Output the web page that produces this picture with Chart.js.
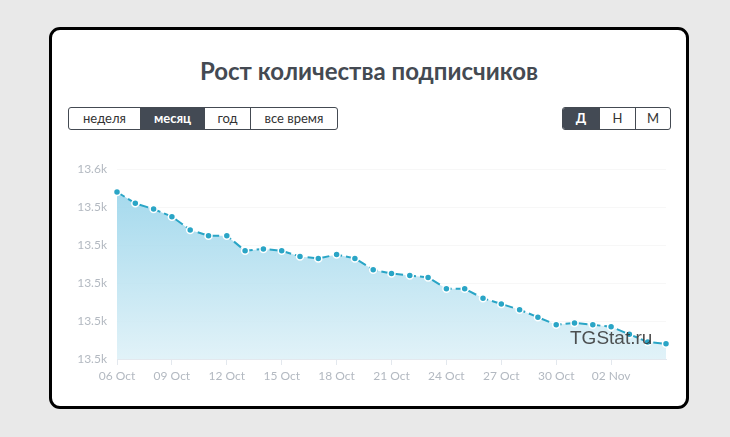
<!DOCTYPE html>
<html>
<head>
<meta charset="utf-8">
<script src="https://cdn.jsdelivr.net/npm/chart.js@4.4.1/dist/chart.umd.min.js"></script>
<style>
    body { margin: 0; background: #e9e9e9; width: 730px; height: 437px; overflow: hidden; font-family: Lato, "Open Sans", sans-serif; }
    .card { position: absolute; left: 49px; top: 27px; width: 634px; height: 376px; background: #fff; border: 3px solid #000; border-radius: 11px; }
    .title { position: absolute; left: 0; right: 0; top: 26px; text-align: center; font-size: 24px; font-weight: bold; color: #444a52; }
    .btns { position: absolute; top: 77px; display: flex; border: 1px solid #444a52; border-radius: 3px; overflow: hidden; }
    .btns div { font-size: 13px; color: #333; height: 21px; line-height: 21px; text-align: center; border-left: 1px solid #444a52; box-sizing: border-box; }
    .btns div:first-child { border-left: none; }
    .btns div.on { background: #434a54; color: #fff; font-weight: bold; }
    .chartbox { position: absolute; left: 8px; top: 122px; width: 620px; height: 243px; }
    .wm { position: absolute; left: 518px; top: 297px; font-family: "Liberation Sans", Arial, sans-serif; font-size: 19px; color: rgba(50,50,50,0.85); pointer-events: none; }
</style>
</head>
<body>
<div class="card">
    <div class="title">Рост количества подписчиков</div>
    <div class="btns" style="left:16px;">
        <div style="width:71px;">неделя</div>
        <div class="on" style="width:64px;">месяц</div>
        <div style="width:46px;">год</div>
        <div style="width:87px;">все время</div>
    </div>
    <div class="btns" style="left:510px;">
        <div class="on" style="width:36px;">Д</div>
        <div style="width:36px;">Н</div>
        <div style="width:35px;">М</div>
    </div>
    <div class="chartbox"><canvas id="subsChart"></canvas></div>
    <div class="wm">TGStat.ru</div>
</div>

<script>
var dates = ['06 Oct', '07 Oct', '08 Oct', '09 Oct', '10 Oct', '11 Oct', '12 Oct', '13 Oct', '14 Oct', '15 Oct',
    '16 Oct', '17 Oct', '18 Oct', '19 Oct', '20 Oct', '21 Oct', '22 Oct', '23 Oct', '24 Oct', '25 Oct',
    '26 Oct', '27 Oct', '28 Oct', '29 Oct', '30 Oct', '31 Oct', '01 Nov', '02 Nov', '03 Nov', '04 Nov', '05 Nov'];

var subscribers = [13594, 13591, 13589.5, 13587.5, 13584, 13582.5, 13582.5, 13578.5, 13579, 13578.5,
    13577, 13576.5, 13577.5, 13576.5, 13573.5, 13572.5, 13572, 13571.5, 13568.5, 13568.5,
    13566, 13564.5, 13563, 13561, 13559, 13559.5, 13559, 13558.5, 13556.5, 13554.5, 13554];

// labelled dates on the x axis
var shownDates = ['06 Oct', '09 Oct', '12 Oct', '15 Oct', '18 Oct', '21 Oct', '24 Oct', '27 Oct', '30 Oct', '02 Nov'];

var yTickValues = [13550, 13560, 13570, 13580, 13590, 13600];
var yTickLabels = ['13.5k', '13.5k', '13.5k', '13.5k', '13.5k', '13.6k'];

var lineColor = '#2aa5c6';

document.addEventListener('DOMContentLoaded', function () {
    var ctx = document.getElementById('subsChart');

    new Chart(ctx, {
        type: 'line',
        data: {
            labels: dates,
            datasets: [{
                label: 'Подписчики',
                data: subscribers,
                borderColor: lineColor,
                borderWidth: 2,
                borderDash: [9, 4],
                pointBackgroundColor: lineColor,
                pointBorderColor: '#fff',
                pointBorderWidth: 1.5,
                pointRadius: 3.5,
                tension: 0,
                fill: 'start',
                backgroundColor: function (context) {
                    var area = context.chart.chartArea;
                    if (!area) {
                        return 'rgba(150,212,234,0.8)';
                    }
                    var g = context.chart.ctx.createLinearGradient(0, area.top, 0, area.bottom);
                    g.addColorStop(0, 'rgba(140,207,232,0.85)');
                    g.addColorStop(1, 'rgba(220,240,247,0.85)');
                    return g;
                }
            }]
        },
        options: {
            responsive: true,
            maintainAspectRatio: false,
            animation: false,
            layout: { padding: { top: 12, right: 14 } },
            plugins: {
                legend: { display: false },
                tooltip: { enabled: false }
            },
            scales: {
                x: {
                    grid: {
                        drawOnChartArea: false,
                        tickLength: 6,
                        color: '#e3e8ee'
                    },
                    border: { color: '#e3e8ee' },
                    ticks: {
                        autoSkip: false,
                        maxRotation: 0,
                        color: '#b3b9c1',
                        font: { family: 'Lato', size: 12 },
                        padding: 4,
                        callback: function (value, index) {
                            return shownDates.indexOf(dates[index]) >= 0 ? dates[index] : null;
                        }
                    },
                    afterFit: function (scale) {
                        scale.height = 36;
                        scale.paddingRight = 0;
                    }
                },
                y: {
                    min: yTickValues[0],
                    max: yTickValues[yTickValues.length - 1],
                    afterBuildTicks: function (scale) {
                        scale.ticks = yTickValues.map(function (v) { return { value: v }; });
                    },
                    grid: { color: 'rgba(0,0,0,0.03)', drawTicks: false },
                    border: { display: false },
                    ticks: {
                        color: '#b3b9c1',
                        font: { family: 'Lato', size: 12 },
                        padding: 10,
                        callback: function (value) {
                            return yTickLabels[yTickValues.indexOf(value)];
                        }
                    },
                    afterFit: function (scale) { scale.width = 57; }
                }
            }
        }
    });
});
</script>
</body>
</html>
